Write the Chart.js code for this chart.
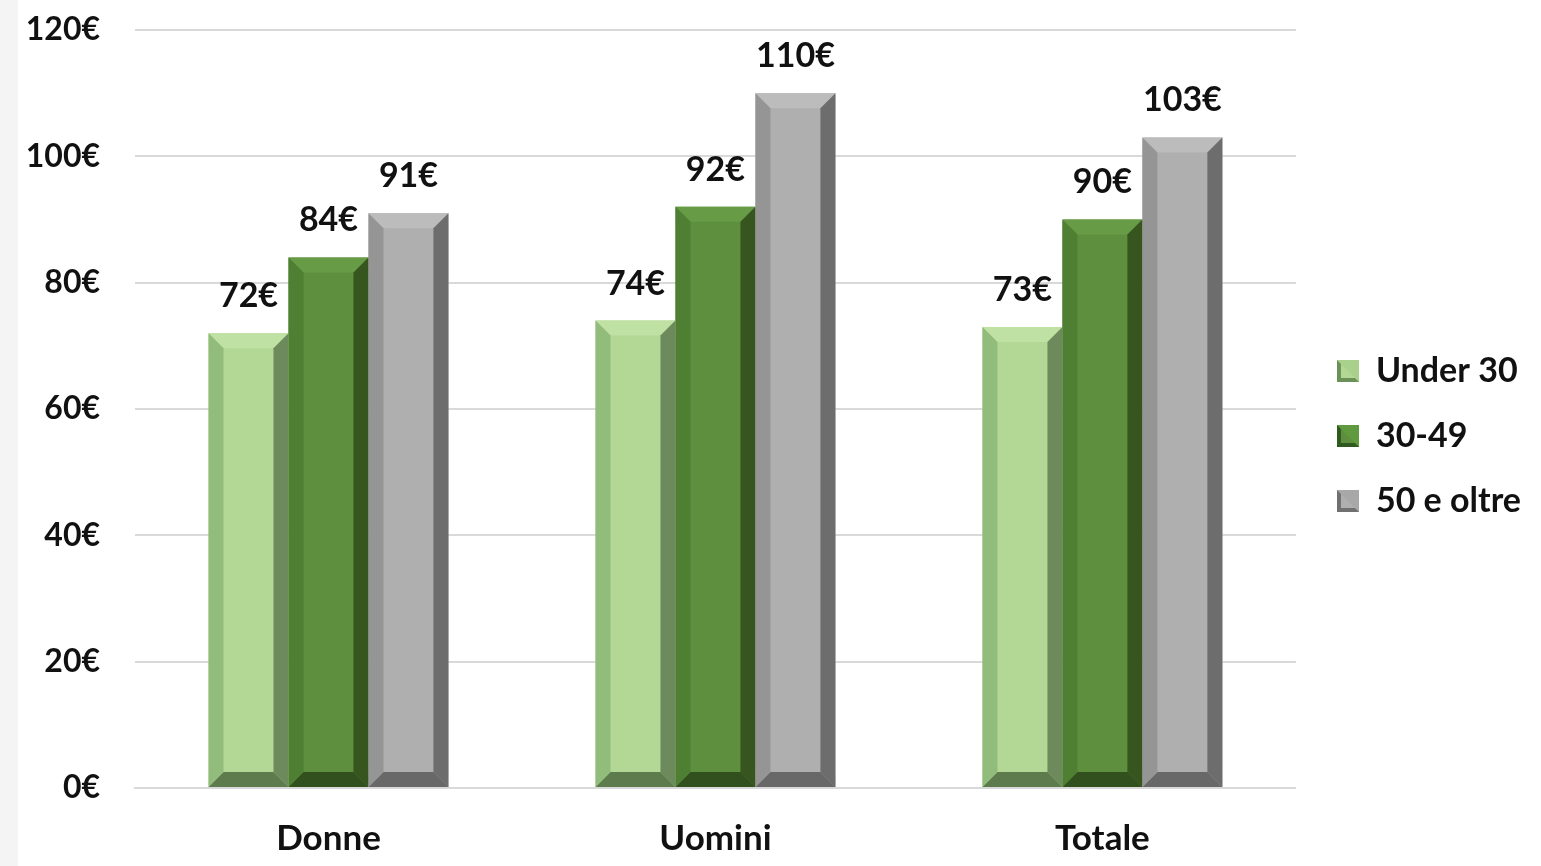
<!DOCTYPE html>
<html><head><meta charset="utf-8">
<script src="https://cdn.jsdelivr.net/npm/chart.js@4.4.1/dist/chart.umd.min.js"></script>
<style>
html,body{margin:0;padding:0;background:#f4f4f4;width:1541px;height:866px;overflow:hidden;}
#wrap{position:absolute;left:18px;top:0;width:1523px;height:866px;background:#fff;}
</style></head><body>
<div id="wrap"><canvas id="c"></canvas></div>
<script>
const categories = ["Donne", "Uomini", "Totale"];
const seriesNames = ["Under 30", "30-49", "50 e oltre"];
const under30 = [72, 74, 73];
const age30to49 = [84, 92, 90];
const age50plus = [91, 110, 103];
const yTicks = [0, 20, 40, 60, 80, 100, 120];

const palettes = [
  {face:'#b3d795', top:'#c0e1a4', left:'#92bc7b', right:'#6c8a5c', bottom:'#5d7b4d', legA:'#a9d18c', legB:'#6a9157'},
  {face:'#5e8f3e', top:'#689b46', left:'#4e7f33', right:'#36551f', bottom:'#31501d', legA:'#5f9a3f', legB:'#2f5a1f'},
  {face:'#afafaf', top:'#bcbcbc', left:'#959595', right:'#6d6d6d', bottom:'#686868', legA:'#a8a8a8', legB:'#707070'}
];

function legendIcon(p){
  const cv = document.createElement('canvas');
  cv.width = 22; cv.height = 22;
  const g = cv.getContext('2d');
  g.fillStyle = p.legB; g.fillRect(0,0,22,22);
  g.fillStyle = p.legA;
  g.beginPath(); g.moveTo(0,0); g.lineTo(22,0); g.lineTo(22,22); g.closePath(); g.fill();
  g.fillStyle = p.face; g.fillRect(4,4,14,14);
  g.fillStyle = p.legA;
  g.beginPath(); g.moveTo(4,4); g.lineTo(18,4); g.lineTo(18,18); g.closePath(); g.fill();
  return cv;
}

const FONT = 'Lato, "Open Sans", sans-serif';

const bevelPlugin = {
  id:'bevel',
  afterDatasetsDraw(chart){
    const ctx = chart.ctx;
    chart.data.datasets.forEach((ds, di) => {
      const meta = chart.getDatasetMeta(di);
      const p = palettes[di];
      meta.data.forEach((bar, i) => {
        const {x, y, base, width} = bar.getProps(['x','y','base','width'], true);
        const l = x - width/2, r = x + width/2, t = y, bt = base;
        const b = Math.min(15, (bt - t)/2, width/2);
        const poly = (pts, col) => {
          ctx.fillStyle = col; ctx.beginPath();
          ctx.moveTo(pts[0][0], pts[0][1]);
          for (let k=1;k<pts.length;k++) ctx.lineTo(pts[k][0], pts[k][1]);
          ctx.closePath(); ctx.fill();
        };
        ctx.save();
        poly([[l,t],[r,t],[r-b,t+b],[l+b,t+b]], p.top);
        poly([[l,bt],[r,bt],[r-b,bt-b],[l+b,bt-b]], p.bottom);
        poly([[l,t],[l+b,t+b],[l+b,bt-b],[l,bt]], p.left);
        poly([[r,t],[r-b,t+b],[r-b,bt-b],[r,bt]], p.right);
        ctx.fillStyle = '#111';
        ctx.font = 'bold 34px ' + FONT;
        ctx.textAlign = 'center';
        ctx.textBaseline = 'middle';
        ctx.fillText(ds.data[i] + '€', x, t - 37);
        ctx.restore();
      });
    });
  }
};

const datasetsData = [under30, age30to49, age50plus];
new Chart(document.getElementById('c'), {
  type:'bar',
  data:{
    labels: categories,
    datasets: datasetsData.map((d, i) => ({
      label: seriesNames[i],
      data: d,
      backgroundColor: palettes[i].face,
      borderWidth: 0,
      barPercentage: 1.0,
      categoryPercentage: 0.62,
      pointStyle: legendIcon(palettes[i]),
      yAxisID: 'y'
    }))
  },
  options:{
    responsive:true,
    maintainAspectRatio:false,
    animation:false,
    layout:{padding:{top:6, right:10, left:0, bottom:0}},
    plugins:{
      tooltip:{enabled:false},
      legend:{
        position:'right',
        labels:{
          usePointStyle:true,
          font:{family:FONT, size:34, weight:'bold'},
          color:'#111',
          padding:31,
          boxWidth:22, boxHeight:22
        }
      }
    },
    scales:{
      x:{
        grid:{display:false, drawTicks:false},
        border:{display:true, color:'#d9d9d9', width:2},
        ticks:{color:'#111', padding:30, font:{family:FONT, size:35, weight:'bold'}},
        afterFit(s){ s.height = 78; }
      },
      y:{
        min:0, max:120,
        afterBuildTicks(axis){ axis.ticks = yTicks.map(v => ({value:v})); },
        afterFit(s){ s.width = 117; s.paddingTop = 30; s.paddingBottom = 0; },
        grid:{color:'#d9d9d9', lineWidth:2, drawTicks:true, tickLength:35, tickColor:'rgba(0,0,0,0)'},
        border:{display:false},
        ticks:{color:'#111', padding:0, font:{family:FONT, size:32, weight:'bold'},
          callback:(v)=> v + '€'}
      },
      yGap:{
        type:'linear', position:'right', display:true,
        grid:{display:false, drawTicks:false},
        border:{display:false},
        ticks:{display:false},
        afterFit(s){ s.width = 10; s.paddingTop = 0; s.paddingBottom = 0; }
      }
    }
  },
  plugins:[bevelPlugin]
});
</script>
</body></html>
